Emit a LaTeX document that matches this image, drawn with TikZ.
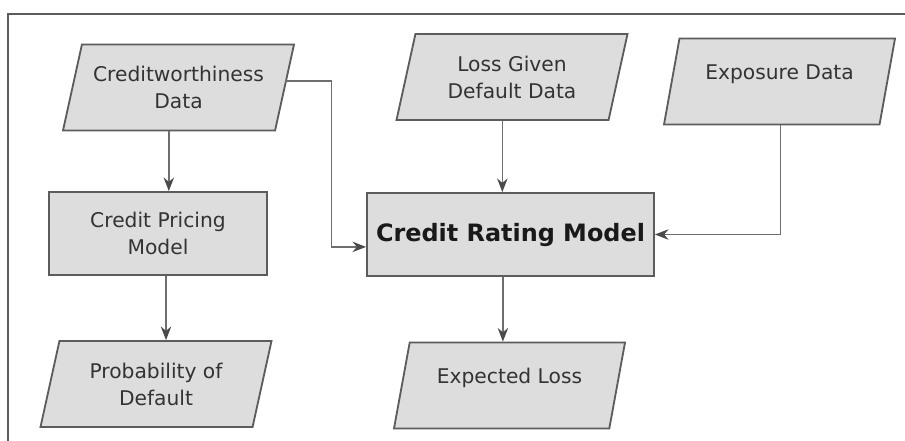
\documentclass[tikz,border=0pt]{standalone}
\usepackage{fontspec}
\setmainfont{DejaVu Sans}
\usetikzlibrary{shapes.geometric,arrows.meta,positioning}
\definecolor{boxfill}{HTML}{DDDDDD}
\definecolor{boxline}{HTML}{5C5C5C}
\definecolor{linecol}{HTML}{6E6E6E}
\definecolor{tipcol}{HTML}{4A4A4A}
\definecolor{txt}{HTML}{333333}
\tikzset{io/.style={trapezium, trapezium left angle=70, trapezium right angle=110, trapezium stretches body, draw=boxline, fill=boxfill, line width=1.3pt, minimum width=57.75mm, minimum height=21.5mm, align=center, text=txt, font=\fontsize{14.4}{19.2}\selectfont}}
\tikzset{proc/.style={rectangle, draw=boxline, fill=boxfill, line width=1.3pt, minimum height=20.75mm, align=center, text=txt, font=\fontsize{14.4}{19.2}\selectfont}}
\tikzset{arr/.style={-{Stealth[length=3.4mm,width=2.6mm,color=tipcol]}, draw=linecol, line width=1.1pt}}
\begin{document}
\begin{tikzpicture}[x=0.25mm,y=-0.25mm]
            \useasboundingbox (0,0) rectangle (905,441);
            \draw[boxline, line width=1.4pt] (8,441) -- (8,14) -- (905,14);
            % inputs and models
            \node[io] (cw) at (178.5,87.5) {Creditworthiness\\Data};
            \node[proc, minimum width=54.5mm] (cpm) at (158,233.5) {Credit Pricing\\Model};
            \node[io] (pd) at (156,384) {Probability of\\Default};
            \node[io] (lgd) at (512,77) {Loss Given\\Default Data};
            \node[io, text depth=4.6mm] (exp) at (779.5,81.5) {Exposure Data};
            \node[proc, minimum width=71.75mm, text=black!90, font=\bfseries\fontsize{17}{20}\selectfont] (crm) at (510.5,234.5) {Credit Rating Model};
            \node[io, text depth=4.6mm] (el) at (509.5,385.5) {Expected Loss};
            % connectors
            \draw[arr] (cw.bottom side) -- (cw.bottom side |- cpm.north);
            \draw[arr] ([xshift=2mm]cpm.south) -- ([xshift=2mm]cpm.south |- pd.top side);
            \draw[arr] ([yshift=1.6mm]cw.east) -- ++(11.5mm,0) |- ([yshift=-3.1mm]crm.west);
            \draw[arr] (lgd.bottom side) -- (lgd.bottom side |- crm.north);
            \draw[arr] ([xshift=-1.9mm]crm.south) -- ([xshift=-1.9mm]crm.south |- el.top side);
            \draw[arr] ([xshift=2.25mm]exp.bottom side) |- (crm.east);
        \end{tikzpicture}
\end{document}
